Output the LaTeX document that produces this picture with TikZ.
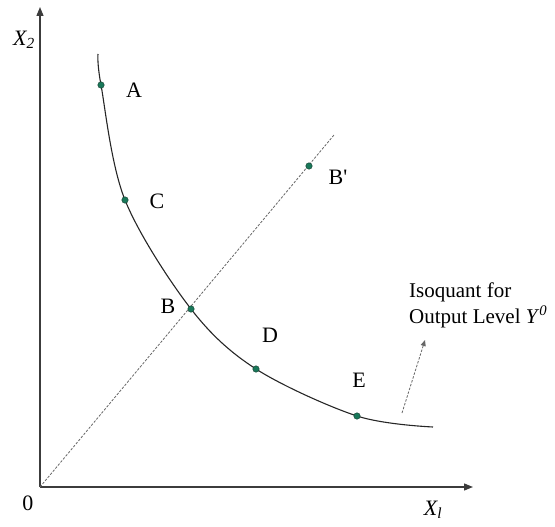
\documentclass[tikz,border=0pt]{standalone}
\usepackage{fontspec}
\setmainfont{Liberation Serif}
\usetikzlibrary{arrows.meta}
\definecolor{axisgray}{RGB}{60,60,60}
\definecolor{dotfill}{RGB}{25,120,90}
\definecolor{dotedge}{RGB}{20,60,45}
\newcommand{\straightquote}{\XeTeXglyph\XeTeXglyphindex "quotesingle"\relax}
\tikzset{
  axisline/.style={draw=axisgray, line width=1.3pt, -{Triangle[length=9pt,width=7pt]}},
  curveline/.style={draw=black!85, line width=1.1pt},
  rayline/.style={draw=black!60, line width=0.8pt, dash pattern=on 2.5pt off 1.5pt},
  pointdot/.style={circle, fill=dotfill, draw=dotedge, line width=0.4pt, inner sep=0pt, minimum size=6.5pt},
  lbl/.style={font=\fontsize{22}{24}\selectfont, inner sep=0pt},
  notelbl/.style={font=\fontsize{21}{24}\selectfont, inner sep=0pt, anchor=base west},
}
\begin{document}
\begin{tikzpicture}[x=1pt,y=-1pt]
\useasboundingbox (0,0) rectangle (555,527);
% axes
\coordinate (O) at (40,487);
\coordinate (Ytop) at (40,7);
\coordinate (Xend) at (473,487);
\draw[axisline] (O) -- (Ytop);
\draw[axisline] (O) -- (Xend);
% ray
\coordinate (Rend) at (334,135);
\draw[rayline] (O) -- (Rend);
% isoquant
\coordinate (Ctop) at (98,54);
\coordinate (pA) at (101,85);
\coordinate (pC) at (125,200);
\coordinate (pB) at (191,309);
\coordinate (pD) at (256,369);
\coordinate (pE) at (357,416);
\coordinate (Cend) at (433,427);
\draw[curveline] plot[smooth, tension=0.55] coordinates {(98,54) (101,85) (125,200) (191,309) (256,369) (357,416) (433,427)};
% dots
\node[pointdot] (dA) at (pA) {};
\node[pointdot] (dC) at (pC) {};
\node[pointdot] (dB) at (pB) {};
\node[pointdot] (dD) at (pD) {};
\node[pointdot] (dE) at (pE) {};
\node[pointdot] (dBp) at (309,166) {};
% labels
\node[lbl] (lA) at (134,90) {A};
\node[lbl] (lC) at (157,201) {C};
\node[lbl] (lB) at (168,306) {B};
\node[lbl] (lD) at (270,335) {D};
\node[lbl] (lE) at (359,380) {E};
\node[lbl] (lBp) at (338,177) {B\straightquote};
\node[lbl] (l0) at (28,503) {0};
\node[lbl] (lX2) at (24,40) {\itshape X\textsubscript{2}};
\node[lbl] (lX1) at (433,510) {\itshape X\textsubscript{\itshape l}};
% note
\node[notelbl] (note1) at (409,297) {Isoquant for};
\node[notelbl] (note2) at (409,323) {Output Level \textit{Y}\textsuperscript{\textit{0}}};
\coordinate (arrStart) at (402,413);
\coordinate (arrEnd) at (425,340);
\draw[rayline, -{Triangle[length=6pt,width=5pt]}] (arrStart) -- (arrEnd);
\end{tikzpicture}
\end{document}
